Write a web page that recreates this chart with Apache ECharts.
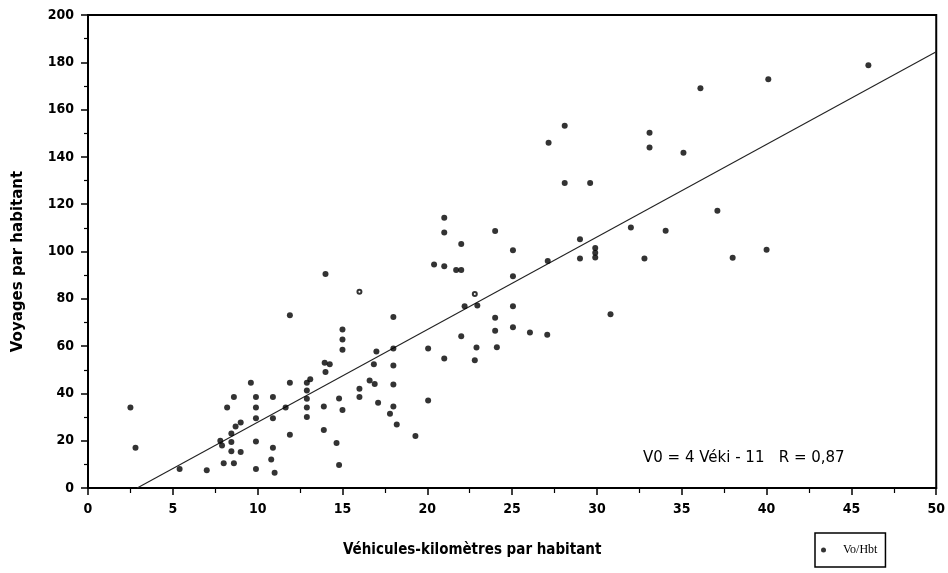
<!DOCTYPE html>
<html>
<head>
<meta charset="utf-8">
<script src="https://cdn.jsdelivr.net/npm/echarts@6/dist/echarts.min.js"></script>
<style>
html,body{margin:0;padding:0;background:#fff;}
#chart{width:948px;height:573px;}
</style>
</head>
<body>
<div id="chart"></div>
<script>
// Véhicules-kilomètres par habitant (x) and Voyages par habitant (y)
const vehKm = [
  2.5, 2.8, 5.4, 7.0, 8.0, 7.8, 7.9, 8.2, 8.6, 8.45, 8.45, 8.45, 8.6, 8.7, 9.0, 9.0,
  9.6, 9.9, 9.9, 9.9, 9.9, 9.9, 10.9, 10.9, 10.9, 10.8, 11.0, 11.65, 11.9, 11.9, 11.9,
  12.9, 13.1, 12.9, 12.9, 12.9, 12.9, 13.9, 13.9, 14.0, 13.95, 14.25, 14.0, 14.8, 15.0,
  14.65, 14.8, 15.0, 15.0, 15.0, 16.0, 16.0, 16.6, 16.9, 16.85, 17.0, 17.1, 18.0, 18.0,
  18.0, 18.0, 18.0, 17.8, 18.2, 19.3, 20.05, 20.05, 20.4, 21.0, 21.0, 21.0, 21.0, 21.7,
  22.0, 22.0, 22.0, 22.2, 22.95, 22.9, 22.8, 24.0, 24.0, 24.0, 24.1, 25.05, 25.05, 25.05,
  25.05, 26.05, 27.07, 27.1, 27.15, 28.1, 28.1, 29.6, 29.0, 29.0, 29.9, 29.9, 29.9, 30.8,
  32.0, 32.8, 33.1, 33.1, 34.05, 35.1, 36.1, 37.1, 38.0, 40.0, 40.1, 46.0
];
const voyages = [
  34, 17, 8, 7.5, 10.5, 20, 18, 34, 38.5, 23, 19.5, 15.5, 10.5, 26, 27.7, 15.2,
  44.5, 38.5, 34, 29.5, 19.7, 8, 38.5, 29.5, 17, 12, 6.5, 34, 73, 44.5, 22.5,
  44.5, 46, 41.2, 37.7, 34, 30, 24.5, 34.5, 49, 53, 52.3, 90.5, 37.8, 33,
  19, 9.7, 67, 62.8, 58.5, 42, 38.5, 45.5, 44, 52.3, 57.7, 36, 72.3, 59,
  51.8, 43.8, 34.5, 31.4, 26.8, 22, 37, 59, 94.5, 114.3, 108, 93.8, 54.8, 92.2,
  92.2, 103.2, 64.2, 76.8, 77.2, 59.4, 54, 108.7, 72, 66.5, 59.5, 100.5, 89.5, 76.8,
  68, 65.7, 64.8, 96, 146, 153.2, 129, 129, 105.2, 97, 101.5, 99.5, 97.5, 73.5,
  110.2, 97, 150.2, 144, 108.8, 141.8, 169, 117.2, 97.4, 100.7, 172.8, 178.8
];
// small hollow marks
const hollowX = [16.0, 22.8];
const hollowY = [83, 82];
// fitted line end points as drawn
const fitX = [2.9, 50];
const fitY = [0, 184.5];
// ticks
const xTicks = [0, 5, 10, 15, 20, 25, 30, 35, 40, 45, 50];
const yTicks = [0, 20, 40, 60, 80, 100, 120, 140, 160, 180, 200];

const pts = vehKm.map((x, i) => [x, voyages[i]]);
const hollow = hollowX.map((x, i) => [x, hollowY[i]]);
const fit = fitX.map((x, i) => [x, fitY[i]]);

const tickFont = "'Liberation Sans Narrow', 'DejaVu Sans Condensed', 'Liberation Sans', sans-serif";
const chart = echarts.init(document.getElementById('chart'), null, {renderer: 'canvas'});
chart.setOption({
  animation: false,
  backgroundColor: '#fff',
  grid: {left: 88, right: 11, top: 15, bottom: 85, show: true, borderColor: '#000', borderWidth: 2, backgroundColor: 'transparent'},
  xAxis: {
    type: 'value', min: xTicks[0], max: xTicks[xTicks.length - 1], interval: 5,
    name: 'Véhicules-kilomètres par habitant', nameLocation: 'middle', nameGap: 55,
    nameTextStyle: {fontFamily: tickFont, fontWeight: 'bold', fontSize: 15, color: '#000', padding: [0, 80, 0, 0]},
    axisLine: {show: true, lineStyle: {color: '#000', width: 2}},
    axisTick: {show: true, length: 7, lineStyle: {color: '#000', width: 1.5}},
    minorTick: {show: true, splitNumber: 2, length: 5, lineStyle: {color: '#000', width: 1.2}},
    axisLabel: {margin: 14, fontFamily: tickFont, fontWeight: 'bold', fontSize: 14, color: '#000'},
    splitLine: {show: false}
  },
  yAxis: {
    type: 'value', min: yTicks[0], max: yTicks[yTicks.length - 1], interval: 20,
    name: 'Voyages par habitant', nameLocation: 'middle', nameGap: 62,
    nameTextStyle: {fontFamily: "'DejaVu Sans', sans-serif", fontWeight: 'bold', fontSize: 15, color: '#000', padding: [0, 20, 0, 0]},
    axisLine: {show: true, lineStyle: {color: '#000', width: 2}},
    axisTick: {show: true, length: 7, lineStyle: {color: '#000', width: 1.5}},
    minorTick: {show: true, splitNumber: 2, length: 4, lineStyle: {color: '#000', width: 1.2}},
    axisLabel: {margin: 14, fontFamily: tickFont, fontWeight: 'bold', fontSize: 14, color: '#000'},
    splitLine: {show: false}
  },
  legend: {
    data: [{name: 'Vo/Hbt', icon: 'circle'}],
    left: 815, top: 533, orient: 'vertical',
    padding: [11, 8, 11, 6], itemWidth: 5, itemHeight: 5,
    borderColor: '#000', borderWidth: 1.5, backgroundColor: '#fff',
    textStyle: {fontFamily: "'Liberation Serif', serif", fontSize: 12, color: '#000', padding: [0, 0, 0, 12]}
  },
  graphic: [{
    type: 'text', left: 643, top: 451,
    style: {text: 'V0 = 4 Véki - 11   R = 0,87', font: '15px "DejaVu Sans", sans-serif', fill: '#000'}
  }],
  series: [
    {name: 'fit', type: 'line', data: fit, symbol: 'none', silent: true,
     lineStyle: {color: '#222', width: 1.1}, z: 1},
    {name: 'Vo/Hbt', type: 'scatter', data: pts, symbol: 'circle', symbolSize: 6,
     itemStyle: {color: '#000'}, z: 3},
    {name: 'hollow', type: 'scatter', data: hollow, symbol: 'emptyCircle', symbolSize: 4,
     itemStyle: {color: '#000', borderWidth: 1}, z: 3}
  ]
});
</script>
</body>
</html>
